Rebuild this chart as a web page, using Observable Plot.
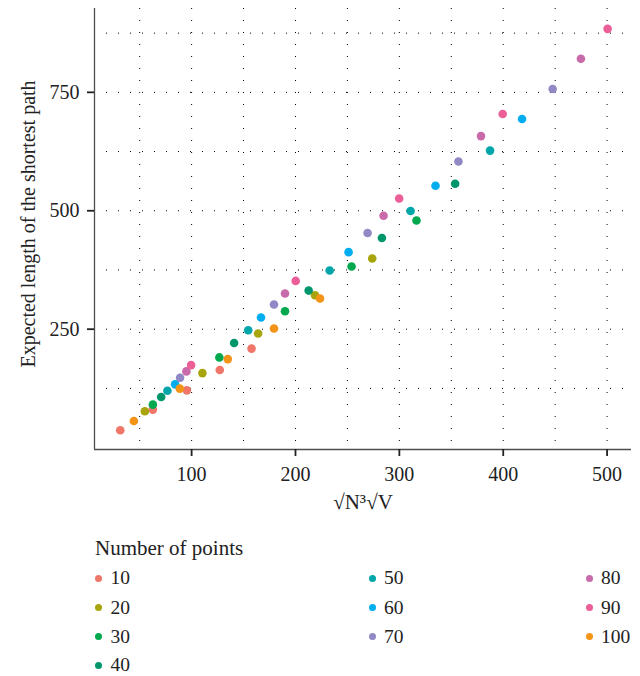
<!DOCTYPE html>
<html><head><meta charset="utf-8">
<script src="https://cdn.jsdelivr.net/npm/d3@7"></script>
<script src="https://cdn.jsdelivr.net/npm/@observablehq/plot@0.6"></script>
<style>
body{margin:0;background:#fff;}
#wrap{position:relative;width:640px;height:676px;font-family:"Liberation Serif","Times New Roman",serif;color:#222;}
#chart{position:absolute;left:0;top:0;}
#chart svg text{font-family:"Liberation Serif","Times New Roman",serif !important;font-variant:normal !important;}
#chart svg g[aria-label$="tick label"]{font-size:20px !important;}
.lg-title{position:absolute;font-size:21px;line-height:26px;white-space:nowrap;}
.lg-item{position:absolute;font-size:19.5px;line-height:26px;white-space:nowrap;}
.lg-dot{position:absolute;width:7px;height:7px;border-radius:50%;}
</style></head><body><div id="wrap"><div id="chart"></div></div>
<script>
// ---- data ----
const groups = ["10","20","30","40","50","60","70","80","90","100"];
const colors = ["#F0766A","#A8A40C","#02A84E","#00966B","#00A6A9","#00AEEF","#9089C6","#C96AAA","#EC5E97","#F39318"];
const xValues = [
  [31.3, 62.7, 95.4, 127.1, 157.7],
  [55.0, 110.4, 164.0, 218.8, 273.9],
  [62.7, 126.7, 189.9, 254.0, 316.5],
  [70.7, 140.9, 212.7, 283.2, 353.7],
  [76.7, 154.5, 232.9, 310.8, 387.3],
  [84.1, 166.8, 251.1, 334.8, 418.1],
  [88.9, 179.3, 269.4, 356.9, 447.6],
  [95.0, 189.9, 284.8, 378.6, 474.8],
  [99.5, 200.2, 299.8, 399.5, 500.5],
  [44.4, 88.6, 134.8, 179.3, 223.6]
];
const yValues = [
  [36.7, 80.2, 120.9, 163.7, 209.0],
  [76.7, 157.3, 241.0, 321.6, 399.3],
  [90.8, 190.4, 288.0, 382.4, 479.6],
  [106.8, 220.8, 331.5, 442.5, 556.9],
  [120.0, 247.6, 374.0, 499.4, 627.0],
  [133.5, 274.6, 412.6, 552.7, 693.8],
  [147.6, 302.0, 453.0, 603.9, 757.0],
  [160.9, 325.2, 489.5, 657.6, 820.8],
  [174.2, 351.9, 526.0, 704.3, 884.0],
  [56.3, 124.5, 186.8, 251.5, 314.7]
];
const xTicks = [100, 200, 300, 400, 500];
const yTicks = [250, 500, 750];
const xGrid = [50, 100, 150, 200, 250, 300, 350, 400, 450, 500];
const yGrid = [125, 250, 375, 500, 625, 750, 875];
const xDomain = [6.5, 523.5];
const yDomain = [-4, 927];
const xLabel = "√N³√V";
const yLabel = "Expected length of the shortest path";
const legendTitle = "Number of points";

const data = groups.flatMap((g, i) => xValues[i].map((x, j) => ({group: g, x, y: yValues[i][j]})));

const FONT = "Liberation Serif, Times New Roman, serif";
const gridStyle = {stroke: "#000", strokeOpacity: 1, strokeWidth: 1, strokeDasharray: "1,11"};
const axisText = {fontFamily: FONT, fontSize: 20, fill: "#222", stroke: "#222", strokeWidth: 1.8, tickSize: 7, label: null};

const plot = Plot.plot({
  width: 640, height: 530,
  marginLeft: 94, marginRight: 9, marginTop: 8, marginBottom: 81,
  style: {fontFamily: FONT, fontSize: "20px", color: "#222", background: "transparent"},
  x: {domain: xDomain},
  y: {domain: yDomain},
  color: {domain: groups, range: colors},
  marks: [
    Plot.gridX(xGrid, gridStyle),
    Plot.gridY(yGrid, gridStyle),
    Plot.ruleX([xDomain[0]], {stroke: "#4d4d4d", strokeWidth: 1.3}),
    Plot.ruleY([yDomain[0]], {stroke: "#4d4d4d", strokeWidth: 1.3}),
    Plot.axisX(xTicks, {...axisText, tickPadding: 10}),
    Plot.axisY(yTicks, {...axisText, tickPadding: 8}),
    Plot.dot(data, {x: "x", y: "y", fill: "group", r: 4.3}),
    Plot.text([xLabel], {frameAnchor: "bottom", dy: 59, fontSize: 21, fontFamily: FONT, fill: "#222"}),
    Plot.text([yLabel], {frameAnchor: "left", textAnchor: "middle", rotate: -90, dx: -66, dy: -5, fontSize: 20, fontFamily: FONT, fill: "#222"})
  ]
});
document.getElementById("chart").appendChild(plot);

// ---- legend (HTML, below the SVG) ----
const wrap = document.getElementById("wrap");
const t = document.createElement("div");
t.className = "lg-title";
t.textContent = legendTitle;
t.style.left = "95px"; t.style.top = (548 - 13) + "px";
wrap.appendChild(t);
const colLayout = [[0, 1, 2, 3], [4, 5, 6], [7, 8, 9]];
const colDotX = [98.5, 372, 589];
const rowY = [578, 607.5, 636.5, 665];
colLayout.forEach((col, c) => col.forEach((gi, r) => {
  const d = document.createElement("div");
  d.className = "lg-dot";
  d.style.background = colors[gi];
  d.style.left = (colDotX[c] - 3.5) + "px";
  d.style.top = (rowY[r] - 3.5) + "px";
  wrap.appendChild(d);
  const s = document.createElement("div");
  s.className = "lg-item";
  s.textContent = groups[gi];
  s.style.left = (colDotX[c] + 12) + "px";
  s.style.top = (rowY[r] - 13) + "px";
  wrap.appendChild(s);
}));
</script></body></html>
